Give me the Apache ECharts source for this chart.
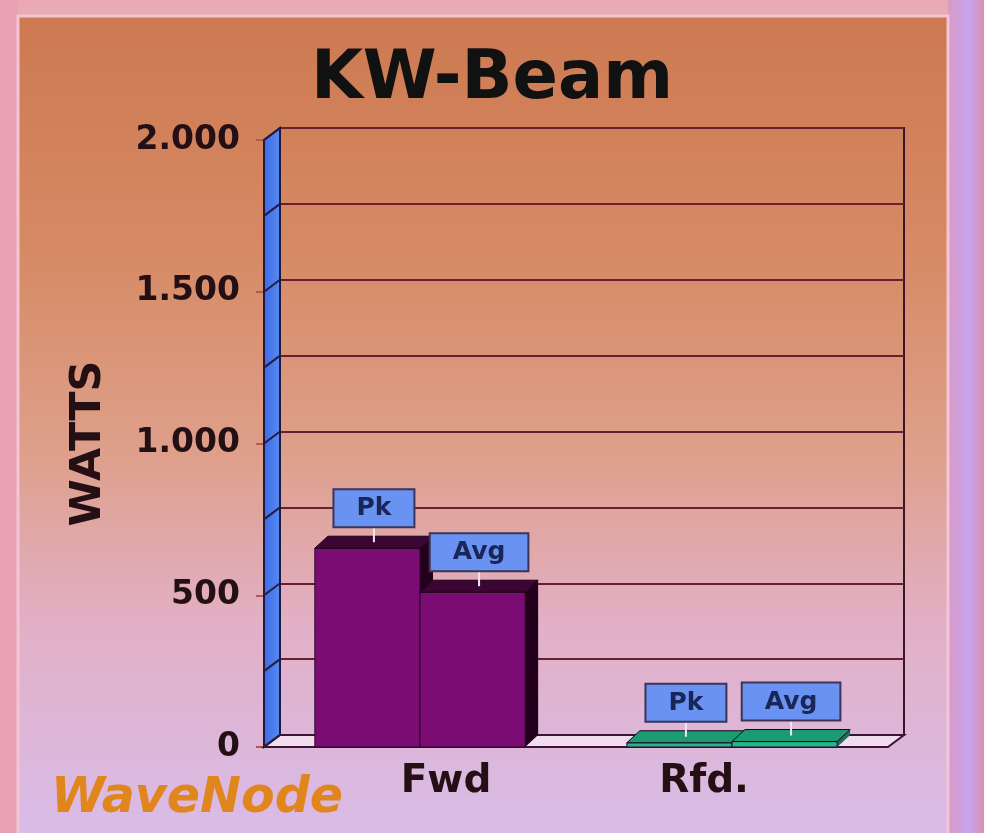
<!DOCTYPE html>
<html>
<head>
<meta charset="utf-8">
<script src="https://cdn.jsdelivr.net/npm/echarts@6/dist/echarts.min.js"></script>
<style>html,body{margin:0;padding:0;background:#e8a8b4;}#c{width:984px;height:833px;}</style>
</head>
<body>
<div id="c"></div>
<script>
// ---- data ----
const categories = ['Fwd', 'Rfd.'];
const seriesNames = ['Pk', 'Avg'];
const pkValues = [655, 14];
const avgValues = [510, 18];
const wallTicks = [0, 250, 500, 750, 1000, 1250, 1500, 1750, 2000];
const yMin = 0, yMax = 2000, yLabelStep = 500;

// ---- style constants ----
const DX = 16, DY = 12;     // wall depth
const BDX = 13, BDY = 12;   // bar depth
const barColors = [
  { front: '#7b0c74', top: '#3c0634', side: '#22001c' },
  { front: '#27b48a', top: '#1c9a74', side: '#147258' }
];

function fmt(v) { return v >= 1000 ? (Math.floor(v / 1000) + '.' + String(v % 1000).padStart(3, '0')) : String(v); }

function wallRender(params, api) {
  const v = api.value(0);
  const catW = api.size([1, 0])[0];
  const c0 = api.coord([0, v]);
  const xl = c0[0] - catW / 2;
  const xr = xl + catW * categories.length;
  const y = c0[1];
  const children = [];
  if (params.dataIndex === 0) {
    const yTop = api.coord([0, yMax])[1];
    children.push({ type: 'polygon', shape: { points: [[xl, yTop], [xl + DX, yTop - DY], [xl + DX, y - DY], [xl, y]] },
      style: { fill: { type: 'linear', x: 0, y: 0, x2: 1, y2: 0, colorStops: [{ offset: 0, color: '#3a6ae6' }, { offset: 1, color: '#5a8cf2' }] }, stroke: '#1e1a40', lineWidth: 2 } });
    children.push({ type: 'polygon', shape: { points: [[xl, y], [xr, y], [xr + DX, y - DY], [xl + DX, y - DY]] },
      style: { fill: '#f2dcf0', stroke: '#3a1634', lineWidth: 2 } });
  }
  children.push({ type: 'line', shape: { x1: xl, y1: y, x2: xl + DX, y2: y - DY }, style: { stroke: '#2a1a40', lineWidth: 2 } });
  return { type: 'group', children: children };
}

function makeBarRender(sideIdx, label) {
  return function (params, api) {
    const cat = api.value(0), val = api.value(1);
    const top = api.coord([cat, val]);
    const base = api.coord([cat, 0]);
    const catW = api.size([1, 0])[0];
    const bw = catW * 0.337;
    const x0 = sideIdx === 0 ? top[0] - bw : top[0];
    const x1 = x0 + bw;
    const yT = top[1], yB = base[1];
    const col = barColors[cat];
    const cx = x0 + bw / 2 + BDX / 2;
    return {
      type: 'group',
      children: [
        { type: 'polygon', shape: { points: [[x1, yT], [x1 + BDX, yT - BDY], [x1 + BDX, yB - BDY], [x1, yB]] }, style: { fill: col.side } },
        { type: 'rect', shape: { x: x0, y: yT, width: bw, height: yB - yT }, style: { fill: col.front, stroke: '#2a0628', lineWidth: 1 } },
        { type: 'polygon', shape: { points: [[x0, yT], [x1, yT], [x1 + BDX, yT - BDY], [x0 + BDX, yT - BDY]] }, style: { fill: col.top, stroke: '#1a0018', lineWidth: 1 } },
        { type: 'line', shape: { x1: cx, y1: yT - BDY / 2, x2: cx, y2: yT - BDY / 2 - 18 }, style: { stroke: '#f4e4f0', lineWidth: 2 } },
        { type: 'text', x: cx, y: yT - BDY / 2 - 16,
          style: { text: label, fill: '#1a2658', font: 'bold 25px "DejaVu Sans"', align: 'center', verticalAlign: 'bottom',
            backgroundColor: '#6a92f2', borderColor: '#3a3456', borderWidth: 2, padding: [6, 22, 5, 22] } }
      ]
    };
  };
}

const chart = echarts.init(document.getElementById('c'), null, { renderer: 'canvas' });
chart.setOption({
  animation: false,
  backgroundColor: { type: 'linear', x: 0, y: 0, x2: 0, y2: 1, colorStops: [
    { offset: 0, color: '#cc7850' }, { offset: 0.3, color: '#d68a64' }, { offset: 0.55, color: '#dea08c' },
    { offset: 0.75, color: '#e2b0c6' }, { offset: 1, color: '#d9bce8' }] },
  graphic: [
    { type: 'rect', z: -5, shape: { x: 0, y: 0, width: 984, height: 16 }, style: { fill: '#e9aab4' } },
    { type: 'rect', z: -5, shape: { x: 0, y: 0, width: 18, height: 833 }, style: { fill: '#eaa2b2' } },
    { type: 'rect', z: -5, shape: { x: 948, y: 0, width: 36, height: 833 }, style: { fill: { type: 'linear', x: 0, y: 0, x2: 1, y2: 0, colorStops: [{ offset: 0, color: '#d89ac8' }, { offset: 0.6, color: '#c8a4ec' }, { offset: 1, color: '#d890b0' }] } } },
    { type: 'rect', z: -4, shape: { x: 18, y: 16, width: 930, height: 830 }, style: { fill: 'none', stroke: '#f2c6d6', lineWidth: 3 } }
  ],
  title: [
    { text: 'KW-Beam', left: 'center', top: 42, textStyle: { fontFamily: 'DejaVu Sans', fontWeight: 'bold', fontSize: 67, color: '#111111' } },
    { text: 'WaveNode', left: 46, top: 770, textStyle: { fontFamily: 'DejaVu Sans', fontStyle: 'italic', fontWeight: 'bold', fontSize: 49, color: '#e0861c' } }
  ],
  grid: [
    { left: 264, top: 140, width: 624, height: 607, containLabel: false },
    { left: 280, top: 128, width: 624, height: 607, containLabel: false, show: true, borderColor: '#3a1626', borderWidth: 2, backgroundColor: 'transparent' }
  ],
  xAxis: [
    { type: 'category', gridIndex: 0, data: categories, axisLine: { show: false }, axisTick: { show: false },
      axisLabel: { margin: 15, formatter: function (v) { return v === categories[0] ? '{f|' + v + '}' : '{r|' + v + '}'; },
        rich: { f: { fontFamily: 'DejaVu Sans', fontWeight: 'bold', fontSize: 39, color: '#241014', padding: [0, 0, 0, 52] },
                r: { fontFamily: 'DejaVu Sans', fontWeight: 'bold', fontSize: 39, color: '#241014', padding: [0, 56, 0, 0] } } } },
    { type: 'category', gridIndex: 1, data: categories, show: false }
  ],
  yAxis: [
    { type: 'value', gridIndex: 0, min: yMin, max: yMax, interval: yLabelStep, name: 'WATTS', nameLocation: 'middle', nameRotate: 90, nameGap: 154,
      nameTextStyle: { fontFamily: 'DejaVu Sans', fontWeight: 'bold', fontSize: 43, color: '#241014' },
      axisLine: { show: true, lineStyle: { color: '#2a1020', width: 2 } },
      axisTick: { show: true, length: 8, lineStyle: { color: '#b05a50', width: 2 } },
      axisLabel: { margin: 24, formatter: fmt, fontFamily: 'DejaVu Sans', fontWeight: 'bold', fontSize: 33, color: '#241014' },
      splitLine: { show: false } },
    { type: 'value', gridIndex: 1, min: yMin, max: yMax, interval: 250, axisLine: { show: false }, axisTick: { show: false }, axisLabel: { show: false },
      splitLine: { show: true, lineStyle: { color: '#6a1e32', width: 2 } } }
  ],
  series: [
    { type: 'custom', name: 'walls', xAxisIndex: 0, yAxisIndex: 0, z: 1, renderItem: wallRender, data: wallTicks.map(function (v) { return [v]; }), encode: { y: 0 }, silent: true },
    { type: 'custom', name: seriesNames[0], xAxisIndex: 0, yAxisIndex: 0, z: 3, renderItem: makeBarRender(0, seriesNames[0]),
      data: pkValues.map(function (v, i) { return [i, v]; }), encode: { x: 0, y: 1 } },
    { type: 'custom', name: seriesNames[1], xAxisIndex: 0, yAxisIndex: 0, z: 4, renderItem: makeBarRender(1, seriesNames[1]),
      data: avgValues.map(function (v, i) { return [i, v]; }), encode: { x: 0, y: 1 } }
  ]
});
</script>
</body>
</html>
